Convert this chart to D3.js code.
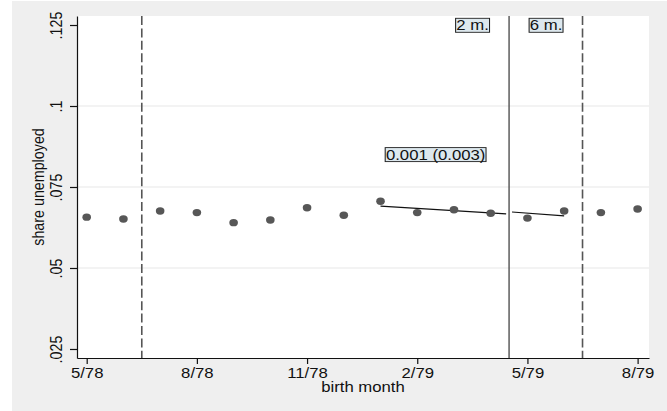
<!DOCTYPE html>
<html>
<head>
<meta charset="utf-8">
<script src="https://cdn.jsdelivr.net/npm/d3@7"></script>
<style>
  body { margin: 0; background: #fff; }
  text { font-family: "Liberation Sans", Arial, sans-serif; fill: #111; }
</style>
</head>
<body>
<div id="chart"></div>
<script>
// datos: mes de nacimiento (0 = 5/78) y proporción de desempleados
var monthIdx = [0, 1, 2, 3, 4, 5, 6, 7, 8, 9, 10, 11, 12, 13, 14, 15];
var shareUnemployed = [0.0657, 0.0651, 0.0676, 0.0671, 0.0640, 0.0648, 0.0686, 0.0663,
                       0.0706, 0.0671, 0.0680, 0.0669, 0.0654, 0.0676, 0.0671, 0.0682];
var xTicks = [0, 3, 6, 9, 12, 15];
var xTickLabels = ["5/78", "8/78", "11/78", "2/79", "5/79", "8/79"];
var yTicks = [0.025, 0.05, 0.075, 0.1, 0.125];
var yTickLabels = [".025", ".05", ".075", ".1", ".125"];
var yGrid = [0.05, 0.075, 0.1];
var fitBefore = [[8, 0.0691], [11.42, 0.0667]];
var fitAfter = [[11.58, 0.0673], [13, 0.0661]];
var cutoff = 11.5;
var windowLines = [1.5, 13.5];
var estimateLabel = "0.001 (0.003)";
var estimatePos = [9.5, 0.085];
var windowLabels = ["2 m.", "6 m."];

var W = 667, H = 411, sx = 1.17, fs = 14.3;

var svg = d3.select("#chart").append("svg")
    .attr("width", W).attr("height", H);

// fondo gris exterior
svg.append("rect").attr("x", 12).attr("y", 1).attr("width", W - 12).attr("height", H - 1)
    .attr("fill", "#efefef");

var x = d3.scaleLinear().domain([-0.264, 15.31]).range([77, 649]);
var y = d3.scaleLinear().domain([0.02222, 0.12778]).range([358, 16]);

// región del gráfico
svg.append("rect").attr("x", 77).attr("y", 16).attr("width", 649 - 77).attr("height", 358 - 16)
    .attr("fill", "#fff");

// líneas de la cuadrícula
svg.append("g").selectAll("line").data(yGrid).enter().append("line")
    .attr("x1", 77).attr("x2", 649)
    .attr("y1", function(d) { return y(d); }).attr("y2", function(d) { return y(d); })
    .attr("stroke", "#e8e8e8").attr("stroke-width", 1.2);

// ventanas (discontinuas) y corte (sólido)
svg.append("g").selectAll("line").data(windowLines).enter().append("line")
    .attr("x1", function(d) { return x(d); }).attr("x2", function(d) { return x(d); })
    .attr("y1", 16).attr("y2", 358)
    .attr("stroke", "#555").attr("stroke-width", 1.6).attr("stroke-dasharray", "9,3.4");

svg.append("line")
    .attr("x1", x(cutoff)).attr("x2", x(cutoff)).attr("y1", 16).attr("y2", 358)
    .attr("stroke", "#444").attr("stroke-width", 1.3);

// rectas ajustadas
var line = d3.line().x(function(d) { return x(d[0]); }).y(function(d) { return y(d[1]); });
[fitBefore, fitAfter].forEach(function(seg) {
  svg.append("path").datum(seg).attr("d", line)
      .attr("fill", "none").attr("stroke", "#111").attr("stroke-width", 1.1);
});

// puntos
svg.append("g").selectAll("ellipse").data(monthIdx).enter().append("ellipse")
    .attr("cx", function(d) { return x(d); })
    .attr("cy", function(d, i) { return y(shareUnemployed[i]); })
    .attr("rx", 4.3).attr("ry", 3.7)
    .attr("fill", "#575757");

// ejes
var yAxis = svg.append("g").attr("transform", "translate(77,0)")
    .call(d3.axisLeft(y).tickValues(yTicks).tickSize(7).tickSizeOuter(0)
      .tickFormat(function(d, i) { return yTickLabels[i]; }));
yAxis.selectAll("text")
    .attr("x", null).attr("dy", null)
    .attr("text-anchor", "middle")
    .attr("transform", "translate(-15,0) scale(" + sx + ",1) rotate(-90)")
    .style("font-size", fs + "px").style("font-family", null);

var xAxis = svg.append("g").attr("transform", "translate(0,358)")
    .call(d3.axisBottom(x).tickValues(xTicks).tickSize(6).tickSizeOuter(0)
      .tickFormat(function(d, i) { return xTickLabels[i]; }));
xAxis.selectAll("text")
    .attr("y", null).attr("dy", null)
    .attr("transform", "translate(0,19.5) scale(" + sx + ",1)")
    .style("font-size", fs + "px").style("font-family", null);

[yAxis, xAxis].forEach(function(a) {
  a.attr("font-family", null).attr("font-size", null);
  a.select(".domain").attr("stroke", "#111").attr("stroke-width", 1.2);
  a.selectAll(".tick line").attr("stroke", "#111").attr("stroke-width", 1.2);
});

// títulos de los ejes
svg.append("text")
    .attr("text-anchor", "middle")
    .attr("transform", "translate(" + ((77 + 649) / 2) + ",391.5) scale(" + sx + ",1)")
    .style("font-size", fs + "px")
    .text("birth month");

svg.append("text")
    .attr("text-anchor", "middle")
    .attr("transform", "translate(44," + ((16 + 358) / 2) + ") scale(" + sx + ",1) rotate(-90)")
    .style("font-size", fs + "px")
    .text("share unemployed");

// etiquetas en caja
function boxLabel(txt, cx, cy) {
  var g = svg.append("g").attr("transform", "translate(" + cx + "," + cy + ") scale(" + sx + ",1)");
  var t = g.append("text").attr("text-anchor", "middle").attr("dy", "0.36em")
      .style("font-size", fs + "px").text(txt);
  var b = t.node().getBBox();
  g.insert("rect", "text")
      .attr("x", b.x - 0.6).attr("y", -7).attr("width", b.width + 1.2).attr("height", 14)
      .attr("fill", "#dde8ee").attr("stroke", "#222").attr("stroke-width", 0.9);
}
boxLabel(windowLabels[0], x(cutoff) - 36.5, 25.3);
boxLabel(windowLabels[1], x(cutoff) + 37, 25.3);
boxLabel(estimateLabel, x(estimatePos[0]), y(estimatePos[1]));
</script>
</body>
</html>
